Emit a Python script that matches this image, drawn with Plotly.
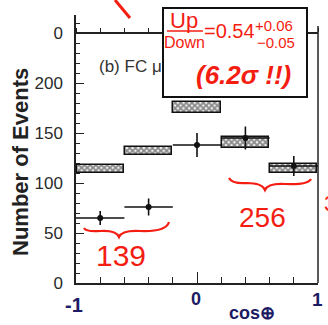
import plotly.graph_objects as go

# ---- data ----
bin_centers = [-0.8, -0.4, 0.0, 0.4, 0.8]
bin_halfwidth = [0.2, 0.2, 0.2, 0.2, 0.2]
data_counts = [65, 76, 138, 145, 117]
data_err = [7, 8.5, 12, 11.5, 10]
mc_counts = [114, 132, 175.5, 140.5, 114.5]
mc_err = [4, 4, 5.5, 5.5, 4.5]
ytick_vals = [0, 50, 100, 150, 200, 250]
ytick_text = ["0", "50", "100", "150", "200", "0"]

# pixel helpers (plot area: x 76..318, y 15..283)
L, R, T, B = 76, 318, 15, 283
def px(x):
    return (x - L) / (R - L)
def py(y):
    return (B - y) / (B - T)

RED = "#f41d12"
NAVY = "#1d1b63"

fig = go.Figure()

fig.add_trace(go.Bar(
    x=bin_centers,
    y=[2 * e for e in mc_err],
    base=[c - e for c, e in zip(mc_counts, mc_err)],
    width=0.39,
    marker=dict(color="#d8d8d8",
                line=dict(color="#111", width=1.5),
                pattern=dict(shape="x", fgcolor="#1e1e1e", bgcolor="#f4f4f4",
                             size=4, solidity=0.7)),
    showlegend=False,
    hoverinfo="skip",
))

fig.add_trace(go.Scatter(
    x=bin_centers, y=data_counts, mode="markers",
    marker=dict(color="#111", size=6),
    error_y=dict(type="data", array=data_err, width=0, thickness=1.6, color="#111"),
    error_x=dict(type="data", array=bin_halfwidth, width=0, thickness=1.6, color="#111"),
    showlegend=False,
))

# hidden trace to activate the upper-panel axis
fig.add_trace(go.Scatter(x=[-1, 1], y=[250, 250], xaxis="x2", mode="lines",
                         line=dict(color="rgba(0,0,0,0)"), showlegend=False,
                         hoverinfo="skip"))

shapes = []
# right frame line
shapes.append(dict(type="line", xref="paper", yref="y", x0=1, x1=1, y0=0, y1=257,
                   line=dict(color="#222", width=1.5)))
# red stroke at top
shapes.append(dict(type="line", xref="paper", yref="paper",
                   x0=px(115), y0=py(0), x1=px(130), y1=py(18),
                   line=dict(color=RED, width=3)))
# annotation box
shapes.append(dict(type="rect", xref="paper", yref="paper",
                   x0=px(163), x1=px(307), y0=py(97), y1=py(8),
                   fillcolor="white", line=dict(color="#111", width=2), layer="above"))
# fraction bar
shapes.append(dict(type="line", xref="paper", yref="paper",
                   x0=px(167), x1=px(203), y0=py(31), y1=py(31),
                   line=dict(color=RED, width=1.5), layer="above"))

def brace(pts):
    s = "M {:.4f} {:.4f}".format(px(pts[0][0]), py(pts[0][1]))
    for i in range(1, len(pts), 2):
        (cx, cy), (ex, ey) = pts[i], pts[i + 1]
        s += " Q {:.4f} {:.4f} {:.4f} {:.4f}".format(px(cx), py(cy), px(ex), py(ey))
    return s

shapes.append(dict(type="path", xref="paper", yref="paper",
                   path=brace([(84, 228), (86, 232), (100, 231), (116, 230), (119, 237),
                               (122, 230), (140, 231), (166, 232), (169, 222)]),
                   line=dict(color=RED, width=2.2)))
shapes.append(dict(type="path", xref="paper", yref="paper",
                   path=brace([(229, 178), (232, 184), (247, 183), (262, 183), (265, 190),
                               (268, 183), (285, 184), (308, 185), (311, 179)]),
                   line=dict(color=RED, width=2.2)))

def ann(text, x, y, size, color, anchor="center", **kw):
    d = dict(text=text, xref="paper", yref="paper", x=px(x), y=py(y),
             xanchor=anchor, yanchor="middle", showarrow=False,
             font=dict(size=size, color=color, family="Liberation Sans, Arial"))
    d.update(kw)
    return d

annotations = [
    ann("<b>Number of Events</b>", 20, 162, 22, "#222", textangle=-90),
    ann("(b) FC μ", 97, 66, 17, "#333", anchor="left"),
    ann("Up", 184, 20, 22, RED),
    ann("Down", 184, 43, 16, RED),
    ann("=0.54", 229, 31, 20, RED),
    ann("+0.06", 274, 26, 15, RED),
    ann("−0.05", 276, 43, 15, RED),
    ann("<b><i>(6.2σ !!)</i></b>", 243, 75, 26, RED),
    ann("139", 121, 255, 30, RED),
    ann("256", 262, 217, 28, RED),
    ann("3", 322, 203, 22, RED, anchor="left"),
    ann("<b>-1</b>", 74, 305, 20, NAVY),
    ann("<b>0</b>", 196, 299, 18, NAVY),
    ann("<b>1</b>", 317, 299, 19, NAVY),
    ann("<b>cos⊕</b>", 252, 313, 18, NAVY),
]

fig.update_layout(
    width=328, height=325,
    margin=dict(l=L, r=328 - R, t=T, b=325 - B, pad=0),
    paper_bgcolor="white", plot_bgcolor="white",
    bargap=0,
    shapes=shapes,
    annotations=annotations,
    xaxis=dict(range=[-1, 1], showgrid=False, zeroline=False, showline=True,
               linecolor="#222", linewidth=1.5,
               ticks="inside", tickvals=[-1, 0, 1], ticklen=11, tickcolor="#222",
               tickwidth=1.3, showticklabels=False,
               minor=dict(dtick=0.2, ticks="inside", ticklen=6, tickcolor="#222",
                          tickwidth=1.3)),
    xaxis2=dict(range=[-1, 1], overlaying="x", anchor="free", position=250 / 268,
                side="top", showgrid=False, zeroline=False, showline=True,
                linecolor="#222", linewidth=1.5, ticks="outside", dtick=0.2,
                ticklen=4, tickcolor="#222", showticklabels=False),
    yaxis=dict(range=[0, 268], showgrid=False, zeroline=False, showline=True,
               linecolor="#222", linewidth=1.5,
               tickvals=ytick_vals, ticktext=ytick_text, ticks="inside", ticklen=8,
               tickcolor="#222", tickwidth=1.3, ticklabelstandoff=8,
               tickfont=dict(size=17, color="#2a2a2a", family="Liberation Sans, Arial"),
               minor=dict(dtick=10, ticks="inside", ticklen=4, tickcolor="#222",
                          tickwidth=1.2)),
)

fig.write_html("out.html", config={"displayModeBar": False},
               post_script="document.body.style.margin='0';")
